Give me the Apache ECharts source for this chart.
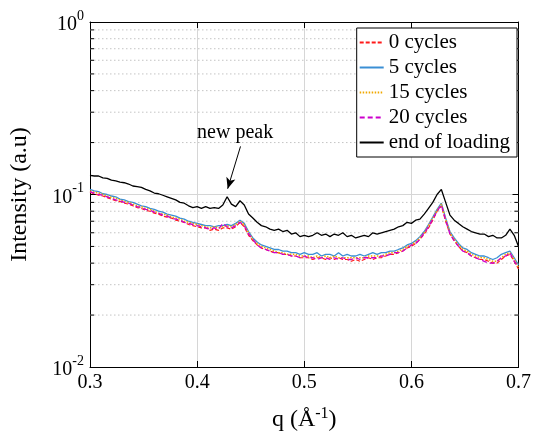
<!DOCTYPE html>
<html>
<head>
<meta charset="utf-8">
<script src="https://cdn.jsdelivr.net/npm/echarts@6/dist/echarts.min.js"></script>
<style>html,body{margin:0;padding:0;background:#fff;}#c{width:534px;height:438px;}</style>
</head>
<body>
<div id="c"></div>
<script>
// q values (Å^-1), step 0.004 from 0.300 to 0.700
var qStart = 0.3, qStep = 0.004, qCount = 101;
var q = [];
for (var i = 0; i < qCount; i++) q.push(+(qStart + i * qStep).toFixed(3));

var names = ['0 cycles', '5 cycles', '15 cycles', '20 cycles', 'end of loading'];

var cyc0 = [
0.103,0.101,0.099,0.098,0.096,0.094,0.092,0.091,0.089,0.088,
0.086,0.084,0.083,0.081,0.080,0.078,0.077,0.075,0.074,0.073,
0.071,0.070,0.069,0.067,0.066,0.065,0.064,0.064,0.062,0.063,
0.062,0.064,0.064,0.063,0.065,0.069,0.065,0.058,0.054,0.051,
0.049,0.048,0.047,0.046,0.046,0.045,0.045,0.044,0.044,0.043,
0.043,0.043,0.042,0.043,0.043,0.042,0.043,0.042,0.043,0.042,
0.042,0.041,0.042,0.041,0.042,0.043,0.042,0.043,0.043,0.044,
0.045,0.045,0.046,0.047,0.049,0.050,0.052,0.055,0.059,0.064,
0.071,0.080,0.086,0.070,0.059,0.054,0.050,0.047,0.046,0.044,
0.043,0.042,0.042,0.041,0.040,0.040,0.042,0.044,0.045,0.041,
0.037];

var cyc5 = [
0.107,0.105,0.104,0.101,0.100,0.098,0.097,0.094,0.093,0.091,
0.090,0.088,0.086,0.085,0.083,0.082,0.080,0.079,0.077,0.076,
0.075,0.073,0.072,0.070,0.069,0.068,0.067,0.066,0.066,0.065,
0.066,0.066,0.067,0.066,0.068,0.071,0.068,0.061,0.056,0.053,
0.051,0.050,0.049,0.048,0.048,0.047,0.047,0.046,0.046,0.045,
0.046,0.045,0.045,0.046,0.044,0.045,0.045,0.044,0.046,0.044,
0.045,0.044,0.044,0.045,0.044,0.045,0.046,0.045,0.046,0.046,
0.047,0.047,0.048,0.049,0.051,0.052,0.054,0.057,0.061,0.067,
0.074,0.082,0.089,0.073,0.061,0.056,0.052,0.049,0.048,0.046,
0.045,0.044,0.044,0.043,0.042,0.043,0.045,0.046,0.047,0.043,
0.039];

var cyc15 = [
0.105,0.103,0.102,0.100,0.098,0.096,0.095,0.093,0.091,0.090,
0.088,0.086,0.085,0.083,0.082,0.080,0.078,0.077,0.076,0.074,
0.073,0.072,0.070,0.069,0.068,0.067,0.066,0.065,0.064,0.065,
0.064,0.065,0.066,0.065,0.067,0.070,0.067,0.060,0.055,0.052,
0.050,0.049,0.048,0.047,0.046,0.046,0.045,0.045,0.045,0.044,
0.044,0.044,0.043,0.044,0.043,0.044,0.043,0.044,0.043,0.043,
0.043,0.043,0.043,0.043,0.043,0.044,0.044,0.044,0.044,0.045,
0.046,0.046,0.047,0.048,0.050,0.051,0.053,0.056,0.060,0.066,
0.073,0.081,0.088,0.072,0.060,0.055,0.051,0.048,0.047,0.045,
0.044,0.043,0.043,0.042,0.041,0.041,0.043,0.045,0.046,0.042,
0.038];

var cyc20 = [
0.104,0.102,0.100,0.099,0.097,0.095,0.093,0.092,0.090,0.089,
0.087,0.085,0.084,0.082,0.081,0.079,0.078,0.076,0.075,0.073,
0.072,0.071,0.069,0.068,0.067,0.066,0.065,0.064,0.063,0.064,
0.063,0.068,0.065,0.064,0.066,0.069,0.066,0.059,0.055,0.051,
0.049,0.048,0.047,0.046,0.046,0.045,0.045,0.044,0.044,0.043,
0.044,0.043,0.043,0.042,0.043,0.043,0.042,0.043,0.042,0.043,
0.042,0.042,0.043,0.042,0.043,0.043,0.043,0.043,0.044,0.044,
0.045,0.046,0.046,0.047,0.049,0.051,0.052,0.055,0.060,0.065,
0.072,0.080,0.087,0.071,0.059,0.054,0.050,0.047,0.046,0.044,
0.043,0.042,0.041,0.040,0.040,0.041,0.043,0.044,0.046,0.041,
0.038];

var endLoading = [
0.129,0.128,0.128,0.125,0.124,0.121,0.120,0.118,0.117,0.115,
0.112,0.111,0.110,0.107,0.105,0.102,0.101,0.099,0.097,0.095,
0.093,0.090,0.089,0.086,0.084,0.085,0.083,0.085,0.083,0.084,
0.083,0.087,0.097,0.088,0.085,0.092,0.087,0.077,0.073,0.069,
0.066,0.065,0.063,0.062,0.063,0.061,0.062,0.059,0.060,0.057,
0.058,0.057,0.058,0.060,0.058,0.059,0.057,0.059,0.058,0.060,
0.057,0.058,0.056,0.057,0.058,0.057,0.060,0.059,0.060,0.061,
0.062,0.063,0.065,0.066,0.069,0.068,0.071,0.072,0.077,0.083,
0.090,0.100,0.107,0.090,0.076,0.071,0.068,0.065,0.063,0.061,
0.060,0.059,0.059,0.057,0.058,0.056,0.056,0.058,0.063,0.058,
0.050];

var yMinorTicks = [0.02,0.03,0.04,0.05,0.06,0.07,0.08,0.09,0.2,0.3,0.4,0.5,0.6,0.7,0.8,0.9];
// annotation anchors in data coordinates: text, arrow tail, arrow tip
var annText = [0.4355, 0.227];
var annTail = [0.4405, 0.19];
var annTip = [0.4285, 0.108];

var FONT = 'Liberation Serif';

function pairs(ys) { return q.map(function (x, i) { return [x, ys[i]]; }); }

var chart = echarts.init(document.getElementById('c'), null, { renderer: 'canvas' });

var axisCommon = {
  axisLine: { show: true, lineStyle: { color: '#000', width: 1 } },
  axisTick: { show: true, inside: true, length: 6, lineStyle: { color: '#000', width: 1 } }
};

var option = {
  animation: false,
  backgroundColor: '#fff',
  grid: { left: 90, right: 13, top: 22, bottom: 71, containLabel: false },
  legend: {
    data: names,
    orient: 'vertical',
    right: 17, top: 28,
    itemWidth: 24, itemHeight: 21, itemGap: 4,
    backgroundColor: '#fff', borderColor: '#000', borderWidth: 1, borderRadius: 0,
    padding: [4, 7, 4, 2],
    itemStyle: { opacity: 0 },
    textStyle: { fontSize: 21, fontFamily: FONT, color: '#000' }
  },
  xAxis: [
    Object.assign({
      type: 'value', min: 0.3, max: 0.7, interval: 0.1, position: 'bottom',
      axisLabel: { fontSize: 20, fontFamily: FONT, color: '#000', margin: 6, formatter: function (v) { return v.toFixed(1); } },
      splitLine: { show: true, lineStyle: { color: '#d6d6d6', width: 1 } },
      name: '{n|q (Å}{s|-1}{n|)}', nameLocation: 'middle', nameGap: 39,
      nameTextStyle: {
        rich: {
          n: { fontSize: 24, fontFamily: FONT, color: '#000' },
          s: { fontSize: 16, fontFamily: FONT, color: '#000', verticalAlign: 'top', padding: [0, 0, 12, 0] }
        }
      }
    }, axisCommon),
    Object.assign({
      type: 'value', min: 0.3, max: 0.7, interval: 0.1, position: 'top',
      axisLabel: { show: false }, splitLine: { show: false }
    }, axisCommon)
  ],
  yAxis: [
    Object.assign({
      type: 'log', logBase: 10, min: 0.01, max: 1, position: 'left',
      axisLabel: {
        margin: 6, color: '#000',
        formatter: function (v) { var e = Math.round(Math.log10(v)); return '{b|10}{s|' + e + '}'; },
        rich: {
          b: { fontSize: 20, fontFamily: FONT, color: '#000', padding: [6, 0, 0, 0] },
          s: { fontSize: 14, fontFamily: FONT, color: '#000', verticalAlign: 'top', padding: [0, 0, 8, 0] }
        }
      },
      splitLine: { show: true, lineStyle: { color: '#d6d6d6', width: 1 } },
      name: 'Intensity (a.u)', nameLocation: 'middle', nameGap: 58,
      nameTextStyle: { fontSize: 24, fontFamily: FONT, color: '#000' }
    }, axisCommon),
    Object.assign({
      type: 'log', logBase: 10, min: 0.01, max: 1, position: 'right',
      axisLabel: { show: false }, splitLine: { show: false }
    }, axisCommon)
  ],
  series: [
    {
      type: 'custom', name: 'minor', silent: true, z: 1,
      xAxisIndex: 0, yAxisIndex: 0,
      data: yMinorTicks.map(function (v) { return [0.3, v]; }),
      renderItem: function (params, api) {
        var v = api.value(1);
        var a = api.coord([0.3, v]);
        var b = api.coord([0.7, v]);
        return {
          type: 'group',
          children: [
            { type: 'line', shape: { x1: a[0], y1: a[1], x2: b[0], y2: b[1] },
              style: { stroke: '#c4c4c4', lineWidth: 1, lineDash: [1.5, 2.5] } },
            { type: 'line', shape: { x1: a[0], y1: a[1], x2: a[0] + 4, y2: a[1] },
              style: { stroke: '#000', lineWidth: 1 } },
            { type: 'line', shape: { x1: b[0] - 4, y1: b[1], x2: b[0], y2: b[1] },
              style: { stroke: '#000', lineWidth: 1 } }
          ]
        };
      }
    },
    { name: names[0], type: 'line', data: pairs(cyc0), symbol: 'none', z: 3,
      lineStyle: { color: '#ff1a1a', width: 1.2, type: [4, 2] }, itemStyle: { color: '#ff1a1a' } },
    { name: names[1], type: 'line', data: pairs(cyc5), symbol: 'none', z: 3,
      lineStyle: { color: '#3a8fd4', width: 1.3, type: 'solid' }, itemStyle: { color: '#3a8fd4' } },
    { name: names[2], type: 'line', data: pairs(cyc15), symbol: 'none', z: 3,
      lineStyle: { color: '#f0a800', width: 1.5, type: [1.5, 1.5] }, itemStyle: { color: '#f0a800' } },
    { name: names[3], type: 'line', data: pairs(cyc20), symbol: 'none', z: 3,
      lineStyle: { color: '#cc00cc', width: 1.3, type: [5, 3] }, itemStyle: { color: '#cc00cc' } },
    { name: names[4], type: 'line', data: pairs(endLoading), symbol: 'none', z: 4,
      lineStyle: { color: '#000', width: 1.3, type: 'solid' }, itemStyle: { color: '#000' },
      markLine: {
        silent: true, symbol: ['none', 'arrow'], symbolSize: [7, 11],
        lineStyle: { color: '#000', width: 1, type: 'solid' },
        label: { show: false },
        data: [[{ coord: annTail }, { coord: annTip }]]
      },
      markPoint: {
        silent: true,
        data: [{ coord: annText, symbol: 'circle', symbolSize: 1, itemStyle: { color: 'rgba(0,0,0,0)' },
          label: { show: true, position: 'inside', formatter: 'new peak', fontSize: 20, fontFamily: FONT, color: '#000' } }]
      }
    }
  ]
};
chart.setOption(option);
</script>
</body>
</html>
